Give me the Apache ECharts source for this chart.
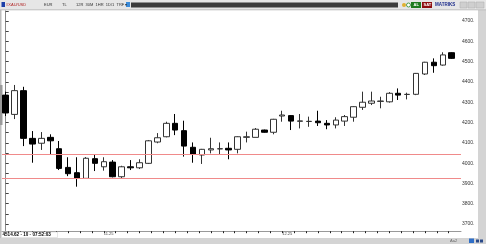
<!DOCTYPE html>
<html><head><meta charset="utf-8">
<script src="https://cdn.jsdelivr.net/npm/echarts@6/dist/echarts.min.js"></script>
<style>html,body{margin:0;padding:0;background:#d4d4d4;}#c{width:486px;height:244px;}</style>
</head><body><div id="c"></div>
<script>
// ---- data (daily candles) ----
const opens  = [4335,4240,4357,4122,4098,4127,4071,3979,3953,3925,4022,3982,4005,3933,3982,3977,3999,4104,4130,4196,4160,4078,4040,4065,4070,4073,4068,4127,4127,4163,4152,4232,4234,4206,4205,4207,4196,4188,4207,4226,4275,4295,4304,4302,4344,4338,4339,4439,4497,4483,4544];
const closes = [4247,4357,4122,4094,4122,4110,3974,3948,3925,4024,3999,4007,3933,3982,3977,4002,4110,4125,4196,4163,4084,4043,4068,4071,4071,4065,4130,4130,4167,4152,4216,4237,4207,4208,4206,4199,4188,4212,4229,4278,4300,4306,4306,4344,4335,4339,4442,4497,4480,4533,4516];
const lows   = [4232,4217,4084,4002,4065,4043,3966,3936,3884,3922,3961,3963,3930,3925,3966,3971,3996,4098,4127,4138,4032,4002,3996,4048,4040,4019,4048,4102,4127,4150,4142,4204,4163,4171,4179,4183,4167,4171,4183,4204,4262,4286,4270,4298,4311,4314,4335,4434,4445,4480,4513];
const highs  = [4352,4385,4376,4158,4153,4142,4109,4029,4029,4030,4043,4029,4015,3987,4015,4019,4114,4148,4204,4242,4209,4102,4070,4125,4102,4102,4132,4155,4173,4165,4218,4258,4236,4242,4229,4258,4212,4226,4237,4280,4352,4352,4327,4350,4368,4347,4444,4499,4516,4546,4546];
const priceLevels = [4045, 3925];
const monthTickIndex = [11, 31];
const monthTickLabels = ['11.25', '12.25'];
const yTickLabels = [3700,3800,3900,4000,4100,4200,4300,4400,4500,4600,4700];
const statusText = '4514.62 - 10 - 07:52:03';

const candleData = opens.map((o, i) => [i, o, closes[i], lows[i], highs[i]]);
const dotTicks = [];
for (let k = 0; k < 38; k++) dotTicks.push(1/3 + k*4/3);

const chart = echarts.init(document.getElementById('c'), null, {renderer:'canvas'});
const F = 'Liberation Sans, Arial, sans-serif';
chart.setOption({
  animation: false,
  backgroundColor: '#d4d4d4',
  grid: {left: 2, right: 25, top: 10.85, bottom: 9.8},
  xAxis: {
    type: 'value', min: -0.415, max: 51.04, offset: -3,
    splitLine: {show: false},
    axisLine: {show: true, lineStyle: {color: '#999', width: 1}},
    axisTick: {show: true, customValues: dotTicks, length: 2, lineStyle: {color: '#222', width: 1}},
    axisLabel: {show: true, customValues: monthTickIndex, fontSize: 4, color: '#444', fontFamily: F, margin: 1, align: 'left',
      formatter: v => { const j = monthTickIndex.indexOf(Math.round(v)); return j >= 0 ? monthTickLabels[j] : ''; }}
  },
  yAxis: {
    type: 'value', position: 'right', min: 3650, max: 4750, interval: 50, scale: true,
    splitLine: {show: false},
    axisLine: {show: true, lineStyle: {color: '#888', width: 1}},
    axisTick: {show: true, length: 3, lineStyle: {color: '#444'}},
    axisLabel: {fontSize: 5, color: '#333', fontFamily: F, margin: 1,
      formatter: v => yTickLabels.indexOf(v) >= 0 ? v + '.' : ''}
  },
  series: [{
    type: 'candlestick',
    data: candleData,
    encode: {x: 0, y: [1, 2, 3, 4]},
    barWidth: 6,
    itemStyle: {color: '#ffffff', color0: '#000000', borderColor: '#333333', borderColor0: '#000000', borderWidth: 1},
    markLine: {
      symbol: 'none', silent: true, label: {show: false},
      lineStyle: {color: '#f08a8a', width: 1, type: 'solid'},
      data: priceLevels.map(v => ({yAxis: v}))
    }
  }],
  graphic: [
    {type: 'rect', shape: {x: 1, y: 10, width: 477, height: 228}, style: {fill: '#ffffff'}, z: -100, silent: true},
    {type: 'rect', shape: {x: 0, y: 10, width: 1.5, height: 228}, style: {fill: '#bdbdbd'}, z: -90},
    {type: 'rect', shape: {x: 0, y: 85, width: 2.5, height: 40}, style: {fill: '#9a9a9a'}, z: -90},
    {type: 'rect', shape: {x: 0, y: 0, width: 486, height: 10}, style: {fill: '#e6e6e6'}, z: -90},
    {type: 'rect', shape: {x: 0, y: 9.5, width: 486, height: 0.8}, style: {fill: '#b0b0b0'}, z: -89},
    {type: 'rect', shape: {x: 131, y: 2.5, width: 267, height: 5}, style: {fill: '#3c3c3c'}, z: -80},
    {type: 'rect', shape: {x: 1.5, y: 2, width: 3.5, height: 5}, style: {fill: '#1c3fa8'}, z: -80},
    {type: 'text', x: 6, y: 2.5, style: {text: '≡XAU/USD', fontSize: 4, fill: '#b02020', font: '4px ' + F}, z: -70},
    {type: 'text', x: 44, y: 2.5, style: {text: 'EUR', fontSize: 4, fill: '#333', font: '4px ' + F}, z: -70},
    {type: 'text', x: 62, y: 2.5, style: {text: 'TL', fontSize: 4, fill: '#333', font: '4px ' + F}, z: -70},
    {type: 'text', x: 76, y: 2.5, style: {text: '12R  30M  1HR  1D/1  TRF ▾', fontSize: 4, fill: '#333', font: '4px ' + F}, z: -70},
    {type: 'rect', shape: {x: 126, y: 2, width: 4, height: 5}, style: {fill: '#3a8ad8'}, z: -80},
    {type: 'circle', shape: {cx: 404, cy: 5, r: 2}, style: {fill: '#e0b030'}, z: -80},
    {type: 'circle', shape: {cx: 408.5, cy: 5, r: 2}, style: {fill: '#fff', stroke: '#2a8a2a', lineWidth: 0.8}, z: -80},
    {type: 'rect', shape: {x: 411, y: 2, width: 10, height: 6}, style: {fill: '#1f7a1f'}, z: -80},
    {type: 'text', x: 413.5, y: 3, style: {text: 'AL', fill: '#fff', font: 'bold 4px ' + F}, z: -70},
    {type: 'rect', shape: {x: 422, y: 2, width: 10, height: 6}, style: {fill: '#8e0f0f'}, z: -80},
    {type: 'text', x: 423.5, y: 3, style: {text: 'SAT', fill: '#fff', font: 'bold 4px ' + F}, z: -70},
    {type: 'text', x: 435, y: 2.6, style: {text: 'MATRIKS', fill: '#1a2a8a', font: 'bold 4.5px ' + F}, z: -70},
    {type: 'rect', shape: {x: 460, y: 2, width: 7, height: 6}, style: {fill: '#cfcfcf', stroke: '#aaa', lineWidth: 0.5}, z: -80},
    {type: 'rect', shape: {x: 468, y: 2, width: 7, height: 6}, style: {fill: '#cfcfcf', stroke: '#aaa', lineWidth: 0.5}, z: -80},
    {type: 'rect', shape: {x: 476, y: 2, width: 8, height: 6}, style: {fill: '#cfcfcf', stroke: '#aaa', lineWidth: 0.5}, z: -80},
    {type: 'rect', shape: {x: 1.5, y: 232, width: 56, height: 5.5}, style: {fill: '#fff', stroke: '#ccc', lineWidth: 0.5}, z: 50},
    {type: 'text', x: 2.5, y: 232.6, style: {text: statusText, fill: '#000', font: 'bold 4.6px ' + F}, z: 60},
    {type: 'text', x: 450, y: 239, style: {text: 'Aa2', fill: '#666', font: '4px ' + F}, z: 60},
    {type: 'rect', shape: {x: 469, y: 238.5, width: 5, height: 4.5}, style: {fill: '#2f6fc8'}, z: 60},
    {type: 'rect', shape: {x: 476, y: 239.5, width: 3, height: 3}, style: {fill: '#2a4a8a'}, z: 60},
    {type: 'rect', shape: {x: 480, y: 239.5, width: 3, height: 3}, style: {fill: '#2a4a8a'}, z: 60}
  ]
});
</script>
</body></html>
